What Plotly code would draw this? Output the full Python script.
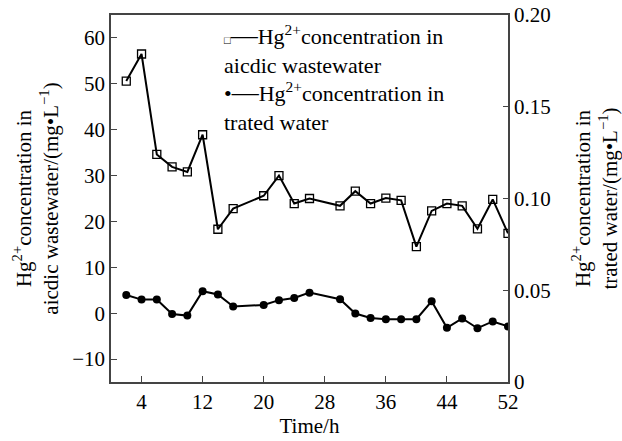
import plotly.graph_objects as go

time_h = [2, 4, 6, 8, 10, 12, 14, 16, 20, 22, 24, 26, 30, 32, 34, 36, 38, 40, 42, 44, 46, 48, 50, 52]
acidic_ww = [50.6, 56.5, 34.6, 31.9, 30.8, 38.9, 18.3, 22.8, 25.6, 30.0, 23.9, 25.0,
             23.4, 26.6, 23.9, 25.1, 24.6, 14.5, 22.3, 23.9, 23.4, 18.4, 24.8, 17.4]
treated_w = [0.0474, 0.0449, 0.0449, 0.0371, 0.0362, 0.0495, 0.0477, 0.0411, 0.0420, 0.0446,
             0.0458, 0.0487, 0.0451, 0.0373, 0.0349, 0.0342, 0.0342, 0.0342, 0.0440, 0.0295,
             0.0346, 0.0293, 0.0330, 0.0303]

x_ticks = [4, 12, 20, 28, 36, 44, 52]
y1_ticks = [-10, 0, 10, 20, 30, 40, 50, 60]
y1_ticktext = ["\u221210", "0", "10", "20", "30", "40", "50", "60"]
y2_ticks = [0, 0.05, 0.10, 0.15, 0.20]
y2_ticktext = ["0", "0.05", "0.10", "0.15", "0.20"]

FONT = "Liberation Serif, Times New Roman, serif"
AX = "#444444"

fig = go.Figure()
fig.add_trace(go.Scatter(
    x=time_h, y=acidic_ww, mode="lines+markers", yaxis="y",
    line=dict(color="black", width=2),
    marker=dict(symbol="square-open", size=8, color="black", line=dict(width=1.3)),
    showlegend=False))
fig.add_trace(go.Scatter(
    x=time_h, y=treated_w, mode="lines+markers", yaxis="y2",
    line=dict(color="black", width=2),
    marker=dict(symbol="circle", size=8, color="black"),
    showlegend=False))

fig.update_layout(
    width=622, height=441,
    margin=dict(l=111, r=114, t=15, b=59),
    paper_bgcolor="white", plot_bgcolor="white",
    font=dict(family=FONT, size=21, color="black"),
    xaxis=dict(range=[0, 52], tickvals=x_ticks, ticks="inside", ticklen=6,
               tickcolor=AX, showline=True, linecolor=AX, linewidth=1.5,
               mirror=True, showgrid=False, zeroline=False, automargin=False,
               title=dict(text="Time/h", standoff=2, font=dict(size=21))),
    yaxis=dict(range=[-15, 65], tickvals=y1_ticks, ticktext=y1_ticktext,
               ticks="inside", ticklen=6,
               tickcolor=AX, showline=True, linecolor=AX, linewidth=1.5,
               showgrid=False, zeroline=False, automargin=False,
               title=dict(text="Hg<sup>2+</sup>concentration in<br>aicdic wastewater/(mg\u2022L<sup>\u22121</sup>)",
                          standoff=8, font=dict(size=21))),
    yaxis2=dict(range=[0, 0.2], tickvals=y2_ticks, ticktext=y2_ticktext, overlaying="y",
                side="right", ticks="inside", ticklen=5, tickcolor=AX,
                showline=True, linecolor=AX, linewidth=1.5,
                showgrid=False, zeroline=False, automargin=False,
                title=dict(text="Hg<sup>2+</sup>concentration in<br>trated water/(mg\u2022L<sup>\u22121</sup>)",
                           standoff=27, font=dict(size=21))),
)

fig.add_annotation(
    xref="paper", yref="paper", x=0.28, y=0.993, xanchor="left", yanchor="top",
    align="left", showarrow=False, font=dict(family=FONT, size=22, color="black"),
    text="<span style='font-size:11px'>\u25a1</span><span style='font-size:27px'>\u2014</span>Hg<sup>2+</sup>concentration in<br>"
         "aicdic wastewater<br>"
         "\u2022<span style='font-size:27px'>\u2014</span>Hg<sup>2+</sup>concentration in<br>"
         "trated water")

fig.write_html("out.html")
